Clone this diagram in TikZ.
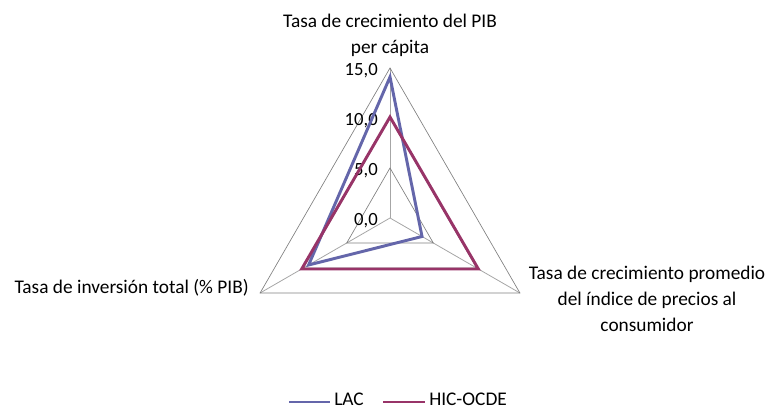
\documentclass[tikz,border=0pt]{standalone}
\usepackage{fontspec}
\setmainfont{Carlito}
\usetikzlibrary{calc}

\definecolor{lac}{RGB}{100,102,170}
\definecolor{hic}{RGB}{152,52,104}

\tikzstyle{rejilla}=[draw=gray, line width=0.5pt]
\tikzstyle{eje}=[draw=gray!70, line width=0.6pt]
\tikzstyle{serie}=[line width=2.2pt, line join=miter]
\tikzstyle{etiqueta}=[align=center, font=\fontsize{14.5}{19.5}\selectfont, inner sep=0pt]
\tikzstyle{valeur}=[anchor=east, font=\fontsize{14}{16}\selectfont, inner sep=0pt]

\begin{document}
\begin{tikzpicture}[x=0.75pt, y=0.75pt]
    \useasboundingbox (0,0) rectangle (767,409);

    \begin{scope}[shift={(390,191)}]
        \coordinate (centro) at (0,0);
        % ejes
        \coordinate (pib) at (90:150);
        \coordinate (ipc) at (-30:150);
        \coordinate (inv) at (210:150);
        \draw[eje] (centro) -- (pib);
        \draw[eje] (centro) -- (ipc);
        \draw[eje] (centro) -- (inv);

        % rejilla
        \foreach \r in {5,10,15} {
            \draw[rejilla] (90:10*\r) -- (-30:10*\r) -- (210:10*\r) -- cycle;
        }

        % valores del eje
        \foreach \v/\nom in {0/cero, 5/cinco, 10/diez, 15/quince} {
            \node[valeur] (v\nom) at (-12, 10*\v-3) {\v,0};
        }

        % series
        \coordinate (lac1) at (90:141);
        \coordinate (lac2) at (-30:37);
        \coordinate (lac3) at (210:94);
        \draw[serie, lac] (lac1) -- (lac2) -- (lac3) -- cycle;

        \coordinate (hic1) at (90:101);
        \coordinate (hic2) at (-30:102);
        \coordinate (hic3) at (210:102);
        \draw[serie, hic] (hic1) -- (hic2) -- (hic3) -- cycle;
    \end{scope}

    % nombres de los ejes
    \node[etiqueta] (tpib) at (390,374) {Tasa de crecimiento del PIB\\per cápita};
    \node[etiqueta, anchor=east] (tinv) at (249,121) {Tasa de inversión total (\% PIB)};
    \node[etiqueta] (tipc) at (647,110) {Tasa de crecimiento promedio\\del índice de precios al\\consumidor};

    % leyenda
    \node[etiqueta, anchor=base west] (leylac) at (334,3) {LAC};
    \node[etiqueta, anchor=base west] (leyhic) at (429,3) {HIC-OCDE};
    \coordinate (ilac) at (289,7);
    \coordinate (ihic) at (383,7);
    \draw[serie, lac] (ilac) -- ([xshift=-3]ilac -| leylac.west);
    \draw[serie, hic] (ihic) -- ([xshift=-3]ihic -| leyhic.west);
\end{tikzpicture}
\end{document}
